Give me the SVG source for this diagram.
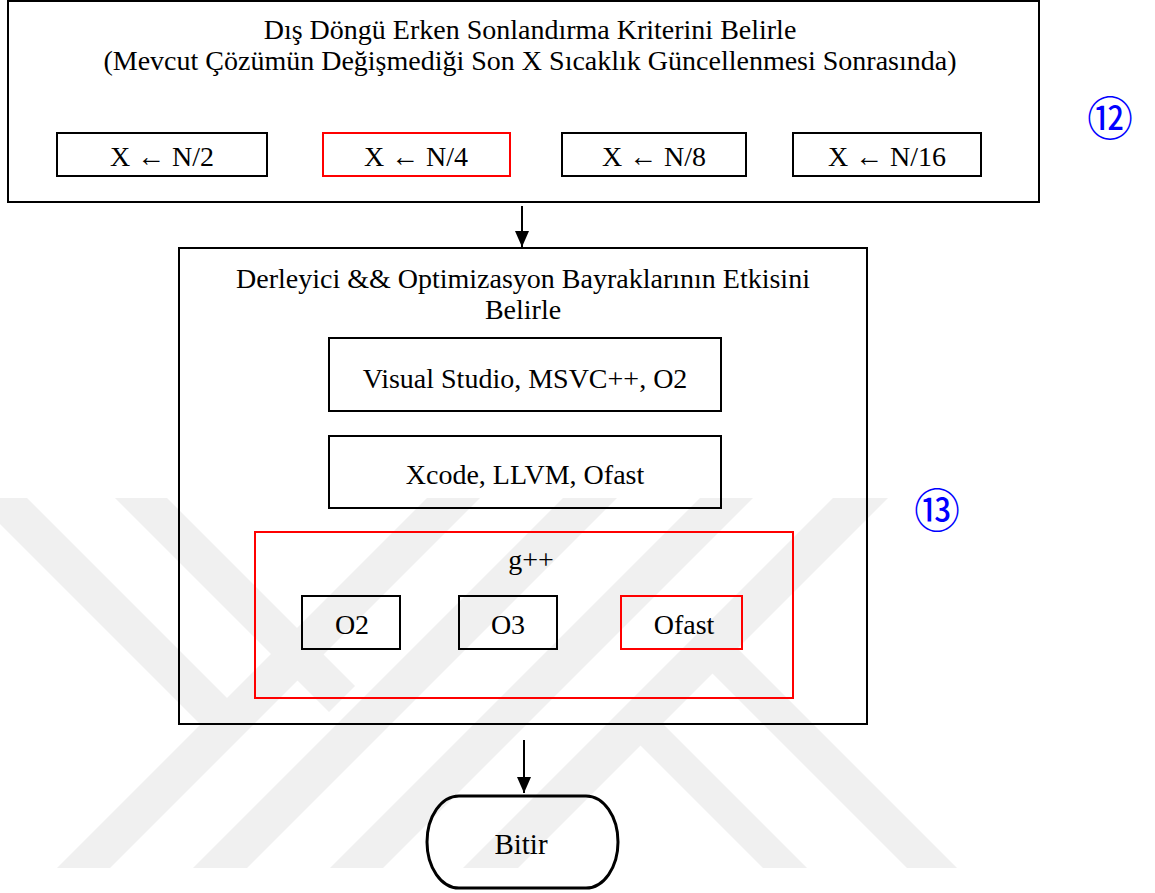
<svg xmlns="http://www.w3.org/2000/svg" width="1155" height="893" viewBox="0 0 1155 893">
  <style>
    .box { fill: none; stroke: #000; stroke-width: 2; }
    .red { fill: none; stroke: #ff0000; stroke-width: 2; }
    .t { font-family: "Liberation Serif", "Times New Roman", serif; font-size: 28px; fill: #000; text-anchor: middle; }
    .num { font-family: "Noto Sans CJK JP", "DejaVu Sans", sans-serif; font-size: 46px; fill: #0000ff; text-anchor: middle; }
    .wm { fill: #f0f0f0; stroke: none; }
    .conn { stroke: #000; stroke-width: 2; fill: none; }
  </style>
  <defs>
    <marker id="arr" markerUnits="userSpaceOnUse" markerWidth="16" markerHeight="16" refX="16" refY="7" orient="auto">
      <path d="M0,0 L16,7 L0,14 z" fill="#000"/>
    </marker>
  </defs>
  <rect x="0" y="0" width="1155" height="893" fill="#fff"/>

  <g id="watermark">
    <polygon class="wm" points="57,868 110,868 480,498 427,498"/>
    <polygon class="wm" points="193,868 247,868 617,498 563,498"/>
    <polygon class="wm" points="330,868 383,868 753,498 700,498"/>
    <polygon class="wm" points="463,868 518,868 888,498 833,498"/>
    <polygon class="wm" points="-26,498 27,498 240,711 214,738"/>
    <polygon class="wm" points="115,498 167,498 355,686 329,712"/>
    <polygon class="wm" points="763,868 807,868 649,710 627,732"/>
    <polygon class="wm" points="907,868 957,868 724,635 699,660"/>
  </g>

  <g id="node-outer-loop">
    <rect class="box" x="8" y="1" width="1031" height="201"/>
    <text class="t" x="530" y="39">Dış Döngü Erken Sonlandırma Kriterini Belirle</text>
    <text class="t" x="530" y="70">(Mevcut Çözümün Değişmediği Son X Sıcaklık Güncellenmesi Sonrasında)</text>
  </g>
  <g id="node-n2">
    <rect class="box" x="57" y="133" width="210" height="43"/>
    <text class="t" x="162" y="166">X ← N/2</text>
  </g>
  <g id="node-n4">
    <rect class="red" x="323" y="133" width="187" height="43"/>
    <text class="t" x="416" y="166">X ← N/4</text>
  </g>
  <g id="node-n8">
    <rect class="box" x="562" y="133" width="184" height="43"/>
    <text class="t" x="654" y="166">X ← N/8</text>
  </g>
  <g id="node-n16">
    <rect class="box" x="793" y="133" width="188" height="43"/>
    <text class="t" x="887" y="166">X ← N/16</text>
  </g>
  <g id="label-12">
    <text class="num" x="1110" y="135">⑫</text>
  </g>

  <g id="node-compiler">
    <rect class="box" x="179" y="248" width="688" height="476"/>
    <text class="t" x="523" y="288">Derleyici &amp;&amp; Optimizasyon Bayraklarının Etkisini</text>
    <text class="t" x="523" y="319">Belirle</text>
  </g>
  <g id="node-vs">
    <rect class="box" x="329" y="338" width="392" height="73"/>
    <text class="t" x="525" y="388">Visual Studio, MSVC++, O2</text>
  </g>
  <g id="node-xcode">
    <rect class="box" x="329" y="436" width="392" height="72"/>
    <text class="t" x="525" y="484">Xcode, LLVM, Ofast</text>
  </g>
  <g id="node-gpp">
    <rect class="red" x="255" y="532" width="538" height="166"/>
    <text class="t" x="531" y="569">g++</text>
  </g>
  <g id="node-o2">
    <rect class="box" x="302" y="596" width="98" height="53"/>
    <text class="t" x="352" y="634">O2</text>
  </g>
  <g id="node-o3">
    <rect class="box" x="459" y="596" width="98" height="53"/>
    <text class="t" x="508" y="634">O3</text>
  </g>
  <g id="node-ofast">
    <rect class="red" x="621" y="596" width="121" height="53"/>
    <text class="t" x="684" y="634">Ofast</text>
  </g>
  <g id="label-13">
    <text class="num" x="937" y="527">⑬</text>
  </g>

  <g id="node-bitir">
    <rect x="427" y="796" width="191" height="92" rx="32" ry="46" fill="none" stroke="#000" stroke-width="3"/>
    <text class="t" x="521" y="854" style="font-size:29px">Bitir</text>
  </g>

  <g id="connectors">
    <path class="conn" d="M522,206 L522,247" marker-end="url(#arr)"/>
    <path class="conn" d="M524,740 L524,793" marker-end="url(#arr)"/>
  </g>
</svg>
